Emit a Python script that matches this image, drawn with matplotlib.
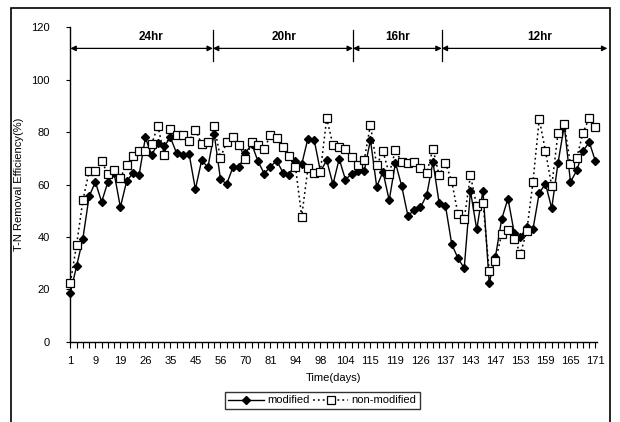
import matplotlib
matplotlib.use("Agg")
import matplotlib.pyplot as plt
from matplotlib.patches import Rectangle

plt.rcParams['font.family'] = ['Liberation Sans', 'DejaVu Sans']

# Sampling days (category axis); only every 4th day is labelled
day_labels = ['1', '9', '19', '26', '35', '45', '56', '70', '81', '94', '98',
              '104', '115', '119', '126', '137', '143', '147', '153', '159',
              '165', '171']

modified = [18.8, 28.9, 39.4, 55.5, 61.0, 53.4, 61.0, 64.3, 51.4, 61.3,
            64.4, 63.8, 78.0, 71.2, 75.8, 74.6, 78.0, 72.0, 71.3, 71.6,
            58.2, 69.3, 66.6, 79.5, 62.2, 60.2, 66.6, 66.6, 72.0, 75.5,
            69.0, 64.2, 66.8, 69.2, 64.6, 63.5, 69.0, 67.7, 77.6, 77.1,
            65.0, 69.3, 60.1, 69.8, 61.9, 64.1, 65.1, 65.1, 77.1, 59.2,
            64.9, 54.0, 68.4, 59.4, 48.0, 50.4, 51.3, 56.0, 68.6, 52.8,
            52.0, 37.3, 31.9, 28.1, 57.6, 42.9, 57.7, 22.5, 32.5, 46.9,
            54.7, 41.6, 39.9, 43.8, 43.0, 56.8, 60.3, 51.0, 68.2, 82.5,
            61.0, 65.4, 72.8, 76.2, 68.9]

non_modified = [22.6, 37.1, 54.0, 65.1, 65.1, 68.9, 64.1, 65.5, 62.6, 67.4,
                71.0, 72.8, 72.8, 75.5, 82.4, 71.3, 81.2, 78.9, 79.1, 76.8,
                81.0, 75.5, 76.1, 82.5, 70.3, 76.1, 78.0, 75.1, 69.8, 76.1,
                75.1, 73.6, 78.9, 77.7, 74.5, 70.9, 66.9, 47.8, 66.2, 64.4,
                65.0, 85.3, 75.2, 74.2, 73.6, 70.4, 67.6, 69.3, 82.8, 67.3,
                72.7, 64.2, 73.1, 68.6, 68.4, 68.8, 66.5, 64.4, 73.7, 63.5,
                68.3, 61.4, 48.7, 46.9, 63.5, 51.8, 53.1, 27.0, 30.7, 41.3,
                42.6, 39.3, 33.7, 42.2, 61.0, 85.1, 72.8, 59.3, 79.7, 83.2,
                67.7, 70.3, 79.7, 85.5, 82.0]

# HRT phases drawn along the top of the plot
phase_names = ['24hr', '20hr', '16hr', '12hr']
phase_edges = [0, 22.8, 45.2, 59.4, 85.9]
phase_text_x = [12.9, 34.2, 52.3, 75.0]

x = list(range(len(modified)))

fig = plt.figure(figsize=(6.2, 4.22), dpi=100)
ax = fig.add_axes([0.1135, 0.19, 0.85, 0.745])

ax.plot(x, modified, color='black', lw=1.0, ls='-', marker='D', ms=4.2,
        mfc='black', mec='black', label='modified', clip_on=False, zorder=3)
ax.plot(x, non_modified, color='black', lw=1.1, ls=(0, (1.2, 2.0)),
        marker='s', ms=5.8, mfc='white', mec='black', mew=0.9,
        label='non-modified', clip_on=False, zorder=4)

ax.set_xlim(0, 84.3)
ax.set_ylim(0, 120)
ax.set_yticks(range(0, 121, 20))
ax.set_xticks(x, minor=True)
ax.set_xticks(x[::4])
ax.set_xticklabels(day_labels)

for side in ('top', 'right'):
    ax.spines[side].set_visible(False)
for side in ('left', 'bottom'):
    ax.spines[side].set_linewidth(1.0)

ax.tick_params(axis='y', direction='out', length=3, width=0.8,
               labelsize=8, pad=12)
ax.tick_params(axis='x', which='major', direction='out', length=4,
               width=0.8, labelsize=8, pad=6)
ax.tick_params(axis='x', which='minor', direction='out', length=4,
               width=0.8)

ax.set_xlabel('Time(days)', fontsize=8, labelpad=5)
ax.set_ylabel('T-N Removal Efficiency(%)', fontsize=8, labelpad=5)

# phase arrows and separators
arrow_y = 112
for a, b in zip(phase_edges[:-1], phase_edges[1:]):
    ax.annotate('', xy=(b, arrow_y), xytext=(a, arrow_y),
                arrowprops=dict(arrowstyle='<|-|>', color='black', lw=0.9,
                                mutation_scale=8, shrinkA=0, shrinkB=0),
                annotation_clip=False)
for e in phase_edges[1:-1]:
    ax.plot([e, e], [107, 119], color='black', lw=0.9, clip_on=False)
for name, tx in zip(phase_names, phase_text_x):
    ax.text(tx, 116.5, name, ha='center', va='center', fontsize=8.5,
            fontweight='bold')

leg = fig.legend(loc='center', bbox_to_anchor=(0.52, 0.051), ncol=2,
                 fontsize=8, frameon=True, fancybox=False, edgecolor='black',
                 handlelength=3.2, handletextpad=0.3, columnspacing=0.3,
                 borderpad=0.3, borderaxespad=0)
leg.get_frame().set_linewidth(1.0)

# chart border
fig.add_artist(Rectangle((0.018, -0.02), 0.966, 1.0, transform=fig.transFigure,
                         fill=False, edgecolor='black', lw=1.2))

fig.savefig('out.png', dpi=100, facecolor='white')
